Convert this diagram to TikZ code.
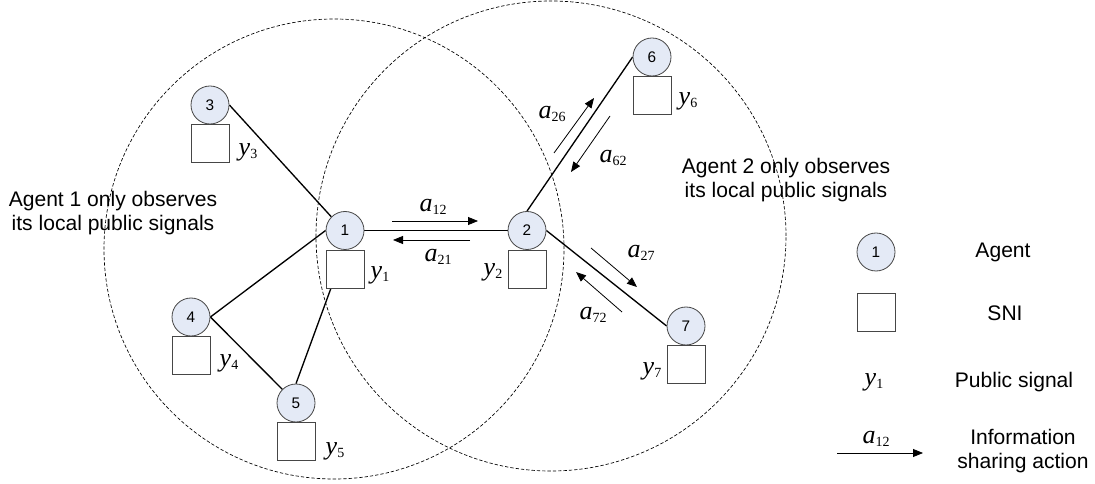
\documentclass[tikz,border=0pt]{standalone}
\usepackage{fontspec}
\setmainfont{Liberation Sans}
\newfontfamily\tnr{Liberation Serif}
\usetikzlibrary{arrows.meta}
\definecolor{agentfill}{RGB}{228,234,246}
\definecolor{edgegray}{RGB}{70,70,70}
\newcommand{\lab}[2]{{\tnr\fontsize{19.5}{20}\selectfont\itshape #1}\raisebox{-2.5pt}{\tnr\fontsize{10.5}{11}\selectfont #2}}
\pgfdeclarelayer{bg}
\pgfsetlayers{bg,main}
\begin{document}
\begin{tikzpicture}[x=0.75pt,y=-0.75pt,
  agent/.style={circle, draw=edgegray, line width=0.6pt, fill=agentfill, minimum size=28.5pt, inner sep=0pt, font=\fontsize{11.5}{13}\selectfont},
  sni/.style={rectangle, draw=edgegray, line width=0.6pt, fill=white, minimum size=28.5pt, inner sep=0pt, anchor=north},
  link/.style={line width=1pt},
  act/.style={line width=0.6pt, -{Triangle[length=7.5pt,width=6pt]}},
  zone/.style={circle, draw, line width=0.5pt, dash pattern=on 2.5pt off 1.5pt, inner sep=0pt},
  txt/.style={font=\fontsize{15.8}{18.5}\selectfont, align=center, inner sep=0pt},
  ml/.style={inner sep=0pt}]
\useasboundingbox (0,0) rectangle (1095,484);

% observation zones
\node[zone, minimum size=345pt] (zone1) at (334,249) {};
\node[zone, minimum size=352.5pt] (zone2) at (551,236) {};

% agents
\node[agent] (n1) at (345,230.5) {1};
\node[agent] (n2) at (527,230.5) {2};
\node[agent] (n3) at (210,105) {3};
\node[agent] (n4) at (191,317) {4};
\node[agent] (n5) at (296,403) {5};
\node[agent] (n6) at (652,57) {6};
\node[agent] (n7) at (686,326) {7};

% SNI boxes
\node[sni] (s1) at (n1.south) {};
\node[sni] (s2) at (n2.south) {};
\node[sni] (s3) at (n3.south) {};
\node[sni] (s4) at (n4.south) {};
\node[sni] (s5) at (n5.south) {};
\node[sni] (s6) at (n6.south) {};
\node[sni] (s7) at (n7.south) {};

% public signals
\node[ml] (y1) at (380,275) {\lab{y}{1}};
\node[ml] (y2) at (493,272) {\lab{y}{2}};
\node[ml] (y3) at (248,152) {\lab{y}{3}};
\node[ml] (y4) at (229,363) {\lab{y}{4}};
\node[ml] (y5) at (335,451) {\lab{y}{5}};
\node[ml] (y6) at (688,101) {\lab{y}{6}};
\node[ml] (y7) at (652,371) {\lab{y}{7}};

% links
\begin{pgfonlayer}{bg}
\draw[link] (n3.east) -- (n1.north west);
\draw[link] (n4.east) -- (n1.west);
\draw[link] (n4.east) -- (n5.north west);
\draw[link] (n5.north) -- (n1.south);
\draw[link] (n1.east) -- (n2.west);
\draw[link] (n2.north) -- (n6.west);
\draw[link] (n2.east) -- (n7.west);
\end{pgfonlayer}

% information sharing actions
\coordinate (a12s) at (392,221); \coordinate (a12e) at (478,221);
\coordinate (a21s) at (470,240); \coordinate (a21e) at (393,240);
\coordinate (a26s) at (554,153); \coordinate (a26e) at (594,98);
\coordinate (a62s) at (610,116); \coordinate (a62e) at (571,172);
\coordinate (a27s) at (591,248); \coordinate (a27e) at (637,287);
\coordinate (a72s) at (622,312); \coordinate (a72e) at (576,272);
\draw[act] (a12s) -- (a12e);
\draw[act] (a21s) -- (a21e);
\draw[act] (a26s) -- (a26e);
\draw[act] (a62s) -- (a62e);
\draw[act] (a27s) -- (a27e);
\draw[act] (a72s) -- (a72e);
\node[ml] (la12) at (433,207) {\lab{a}{12}};
\node[ml] (la21) at (438,257) {\lab{a}{21}};
\node[ml] (la26) at (552,114) {\lab{a}{26}};
\node[ml] (la62) at (613,158) {\lab{a}{62}};
\node[ml] (la27) at (641,253) {\lab{a}{27}};
\node[ml] (la72) at (593,315) {\lab{a}{72}};

% descriptions
\node[txt] (d1) at (113,213) {Agent 1 only observes\\its local public signals};
\node[txt] (d2) at (786,180) {Agent 2 only observes\\its local public signals};

% legend
\node[agent] (g1) at (876,252) {1};
\node[sni, anchor=center] (g2) at (876,312) {};
\node[ml] (g3) at (874,382) {\lab{y}{1}};
\node[ml] (g4) at (876,439) {\lab{a}{12}};
\coordinate (gas) at (837,453); \coordinate (gae) at (923,453);
\draw[act] (gas) -- (gae);
\node[txt] (t1) at (1003,252) {Agent};
\node[txt] (t2) at (1005,313) {SNI};
\node[txt] (t3) at (1014,382) {Public signal};
\node[txt] (t4) at (1023,451) {Information\\sharing action};
\end{tikzpicture}
\end{document}
